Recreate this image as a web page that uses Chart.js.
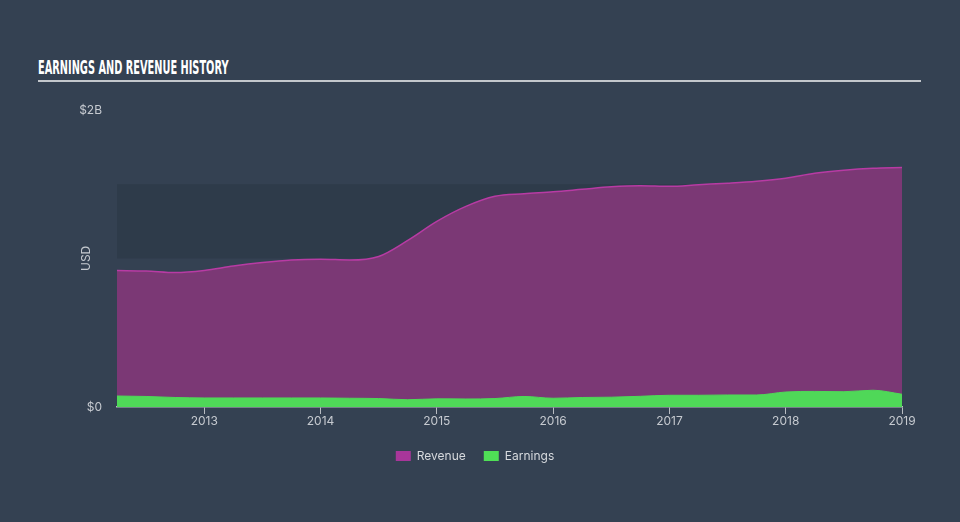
<!DOCTYPE html>
<html>
<head>
<meta charset="utf-8">
<script src="https://cdn.jsdelivr.net/npm/chart.js@4"></script>
<style>
  html, body { margin: 0; padding: 0; background: #344152; }
  #wrap { position: relative; width: 960px; height: 522px; overflow: hidden; }
  #title {
    position: absolute; left: 38px; top: 55px; white-space: nowrap;
    font-family: "DejaVu Sans", sans-serif;
    font-weight: bold; font-size: 20px; color: #ffffff;
    transform: scaleX(0.49); transform-origin: left top;
  }
  #rule { position: absolute; left: 38px; top: 80px; width: 883px; height: 2px; background: #c3c7cc; }
  canvas { position: absolute; left: 0; top: 0; }
</style>
</head>
<body>
<div id="wrap">
  <div id="title">EARNINGS AND REVENUE HISTORY</div>
  <div id="rule"></div>
  <canvas id="chart" width="960" height="522"></canvas>
</div>
<script>
// quarter ends, Q1 2012 .. Q4 2018
const quarters = [
  '2012-03', '2012-06', '2012-09', '2012-12',
  '2013-03', '2013-06', '2013-09', '2013-12',
  '2014-03', '2014-06', '2014-09', '2014-12',
  '2015-03', '2015-06', '2015-09', '2015-12',
  '2016-03', '2016-06', '2016-09', '2016-12',
  '2017-03', '2017-06', '2017-09', '2017-12',
  '2018-03', '2018-06', '2018-09', '2018-12'
];
// USD billions
const revenue = [
  0.919, 0.916, 0.905, 0.919, 0.949, 0.973, 0.990, 0.995,
  0.990, 1.014, 1.122, 1.250, 1.351, 1.419, 1.436, 1.449,
  1.466, 1.483, 1.490, 1.486, 1.497, 1.507, 1.520, 1.541,
  1.574, 1.595, 1.608, 1.613
];
const earnings = [
  0.074, 0.071, 0.064, 0.061, 0.061, 0.061, 0.061, 0.061,
  0.059, 0.057, 0.049, 0.055, 0.054, 0.057, 0.071, 0.059,
  0.064, 0.066, 0.072, 0.079, 0.079, 0.081, 0.081, 0.101,
  0.105, 0.103, 0.113, 0.086
];
const yearTicks = [2013, 2014, 2015, 2016, 2017, 2018, 2019];
const usdTicks = [0, 2];
const bandRange = [1, 1.5];

// '2012-03' -> 2012.25
const toYear = q => {
  const [y, m] = q.split('-').map(Number);
  return y + m / 12;
};

const axisFont = { family: 'Inter, "Open Sans", sans-serif', size: 12 };
const labelColor = '#c6cad0';

// darker band behind the series + rotated axis title
const extras = {
  id: 'extras',
  beforeDatasetsDraw(chart) {
    const { ctx, chartArea, scales } = chart;
    const top = scales.y.getPixelForValue(bandRange[1]);
    const bottom = scales.y.getPixelForValue(bandRange[0]);
    ctx.save();
    ctx.fillStyle = '#2e3b4a';
    ctx.fillRect(chartArea.left, top, chartArea.right - chartArea.left, bottom - top);
    ctx.restore();
  },
  afterDraw(chart) {
    const { ctx, scales } = chart;
    const mid = (scales.y.getPixelForValue(bandRange[0]) + scales.y.getPixelForValue(bandRange[1])) / 2;
    ctx.save();
    ctx.translate(86, mid + 37);
    ctx.rotate(-Math.PI / 2);
    ctx.font = '12px Inter, "Open Sans", sans-serif';
    ctx.fillStyle = labelColor;
    ctx.textAlign = 'center';
    ctx.textBaseline = 'middle';
    ctx.fillText('USD', 0, 0);
    ctx.restore();
  }
};

new Chart(document.getElementById('chart').getContext('2d'), {
  type: 'line',
  data: {
    datasets: [
      {
        label: 'Revenue',
        data: quarters.map((q, i) => ({ x: toYear(q), y: revenue[i] })),
        borderColor: '#b83ba4',
        backgroundColor: '#7b3875',
        fill: 'origin',
        borderWidth: 1.5,
        pointRadius: 0,
        cubicInterpolationMode: 'monotone',
        order: 2
      },
      {
        label: 'Earnings',
        data: quarters.map((q, i) => ({ x: toYear(q), y: earnings[i] })),
        borderColor: '#4fd858',
        backgroundColor: '#4fd858',
        fill: 'origin',
        borderWidth: 1,
        pointRadius: 0,
        cubicInterpolationMode: 'monotone',
        order: 1
      }
    ]
  },
  options: {
    responsive: false,
    animation: false,
    layout: { padding: { top: 110, right: 58, bottom: 50, left: 48 } },
    scales: {
      x: {
        type: 'linear',
        min: toYear(quarters[0]),
        max: toYear(quarters[quarters.length - 1]),
        afterBuildTicks: s => { s.ticks = yearTicks.map(v => ({ value: v })); },
        afterFit: s => { s.height = 25; },
        ticks: { color: labelColor, font: axisFont, padding: 0, callback: v => String(v) },
        grid: { display: true, drawOnChartArea: false, color: '#b8bcc2', tickLength: 7 },
        border: { display: true, color: '#b8bcc2', width: 1.5 }
      },
      y: {
        min: 0, max: 2,
        afterBuildTicks: s => { s.ticks = usdTicks.map(v => ({ value: v })); },
        afterFit: s => { s.width = 69; },
        ticks: { color: labelColor, font: axisFont, padding: 15, callback: v => v === 0 ? '$0' : '$' + v + 'B' },
        grid: { display: false, drawTicks: false },
        border: { display: false }
      }
    },
    plugins: {
      legend: {
        position: 'bottom',
        labels: { color: '#d6d9dd', font: axisFont, boxWidth: 15, boxHeight: 10, padding: 18,
          generateLabels: chart => chart.data.datasets.map((d, i) => ({
            text: d.label, fillStyle: i === 0 ? '#a8369a' : '#4fe056',
            strokeStyle: 'transparent', lineWidth: 0, fontColor: '#d6d9dd', datasetIndex: i
          }))
        }
      },
      tooltip: { enabled: false }
    }
  },
  plugins: [extras]
});
</script>
</body>
</html>
